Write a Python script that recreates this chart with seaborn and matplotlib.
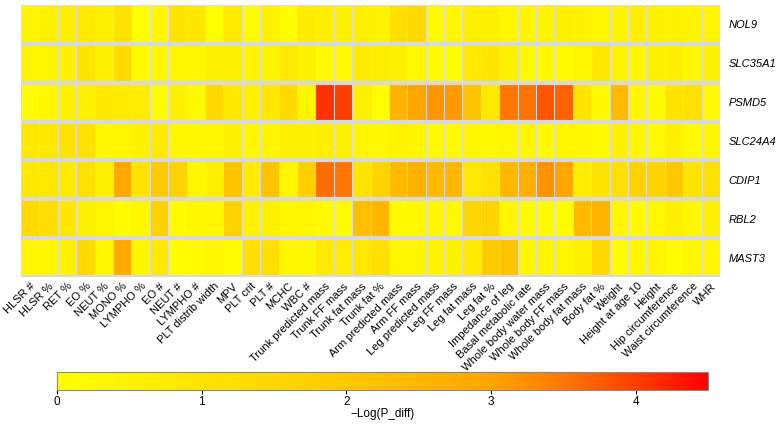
import numpy as np
import pandas as pd
import seaborn as sns
import matplotlib.pyplot as plt
from matplotlib.colors import LinearSegmentedColormap

plt.rcParams['font.family'] = ['Liberation Sans', 'DejaVu Sans']

traits = ["HLSR #", "HLSR %", "RET %", "EO %", "NEUT %", "MONO %", "LYMPHO %",
          "EO #", "NEUT #", "LYMPHO #", "PLT distrib width", "MPV", "PLT crit",
          "PLT #", "MCHC", "WBC #", "Trunk predicted mass", "Trunk FF mass",
          "Trunk fat mass", "Trunk fat %", "Arm predicted mass", "Arm FF mass",
          "Leg predicted mass", "Leg FF mass", "Leg fat mass", "Leg fat %",
          "Impedance of leg", "Basal metabolic rate", "Whole body water mass",
          "Whole body FF mass", "Whole body fat mass", "Body fat %", "Weight",
          "Height at age 10", "Height", "Hip circumference",
          "Waist circumference", "WHR"]

genes = ["NOL9", "SLC35A1", "PSMD5", "SLC24A4", "CDIP1", "RBL2", "MAST3"]

# -log(P_diff) per gene, one value per trait
nol9 = [0.4, 0.5, 0.6, 0.8, 0.6, 1.1, 0.05, 0.3, 1.0, 0.9, 0.05, 0.8, 0.15,
        0.5, 0.1, 0.75, 0.65, 0.5, 0.6, 0.45, 1.2, 1.4, 0.2, 0.35, 0.6, 0.55,
        0.3, 0.4, 0.4, 0.6, 0.5, 0.4, 0.4, 0.6, 0.5, 0.5, 0.4, 0.4]
slc35a1 = [0.4, 0.4, 0.5, 1.0, 0.6, 1.4, 0.2, 0.3, 0.3, 0.4, 0.6, 0.6, 0.4,
           0.4, 0.9, 0.5, 0.2, 0.2, 0.75, 0.7, 0.6, 0.3, 0.15, 0.1, 0.85, 0.95,
           0.6, 0.2, 0.2, 0.2, 0.4, 0.9, 0.4, 0.3, 0.5, 0.6, 0.3, 0.5]
psmd5 = [0.15, 0.3, 0.5, 0.6, 0.9, 0.8, 0.7, 0.15, 0.6, 0.2, 1.4, 0.9, 0.6,
         0.9, 1.4, 0.4, 4.1, 4.0, 0.6, 0.1, 2.6, 3.0, 3.15, 3.1, 2.1, 0.9,
         3.5, 3.55, 3.8, 3.7, 1.0, 0.25, 2.4, 0.35, 0.2, 1.0, 1.1, 0.25]
slc24a4 = [0.9, 0.9, 1.0, 1.1, 0.3, 0.4, 0.5, 0.8, 0.3, 0.3, 0.4, 0.5, 0.3,
           0.4, 0.6, 0.5, 0.65, 0.6, 0.35, 0.25, 0.45, 0.35, 0.2, 0.2, 0.3,
           0.25, 0.3, 0.3, 0.2, 0.4, 0.3, 0.2, 0.5, 0.3, 0.2, 0.6, 0.2, 0.3]
cdip1 = [0.85, 0.9, 0.8, 1.1, 0.6, 2.9, 1.0, 1.9, 1.6, 0.3, 0.6, 2.1, 0.7,
         2.1, 0.35, 1.75, 3.6, 3.5, 1.0, 1.6, 2.4, 2.65, 2.4, 2.45, 0.85, 1.15,
         2.45, 2.7, 3.2, 3.0, 0.7, 1.05, 1.15, 1.6, 1.6, 2.0, 1.0, 1.15]
rbl2 = [1.4, 1.2, 0.9, 0.6, 0.4, 0.15, 0.3, 1.7, 0.2, 0.3, 0.3, 1.7, 0.5,
        0.5, 0.35, 0.4, 0.2, 0.15, 2.3, 2.5, 0.2, 0.25, 0.3, 0.25, 1.55, 1.6,
        0.3, 0.2, 0.2, 0.15, 2.4, 2.55, 0.35, 0.2, 0.3, 0.6, 0.3, 0.6]
mast3 = [0.3, 0.35, 0.5, 1.4, 0.3, 2.9, 0.4, 0.9, 0.15, 0.2, 0.3, 0.15, 1.2,
         1.2, 0.3, 0.3, 0.8, 0.7, 0.9, 1.2, 0.35, 0.4, 0.45, 0.5, 0.8, 1.9,
         2.1, 0.35, 0.4, 0.4, 0.6, 1.4, 0.15, 0.3, 0.4, 0.15, 0.3, 0.4]

df = pd.DataFrame([nol9, slc35a1, psmd5, slc24a4, cdip1, rbl2, mast3],
                  index=genes, columns=traits)

# yellow -> orange -> red, slow at first then steep
cmap = LinearSegmentedColormap.from_list("heat", [
    (0.0, "#FFFF00"), (1 / 4.5, "#FFE400"), (2 / 4.5, "#FFC800"),
    (3 / 4.5, "#FFA500"), (3.5 / 4.5, "#FF7800"), (4 / 4.5, "#FF4000"),
    (1.0, "#FF0000")])

fig = plt.figure(figsize=(7.79, 4.24), dpi=100)
ax = fig.add_axes([21 / 779, 1 - 277 / 424, 699 / 779, 272 / 424])
cax = fig.add_axes([57 / 779, 1 - 390 / 424, 651 / 779, 18 / 424])

sns.heatmap(df, ax=ax, cmap=cmap, vmin=0, vmax=4.5, linewidths=0.6,
            linecolor="#dcdcdc", cbar_ax=cax,
            cbar_kws={"orientation": "horizontal", "ticks": [0, 1, 2, 3, 4]})

for y in range(1, len(genes) + 1):
    ax.axhline(y, color="#d9d9d9", lw=3)

ax.yaxis.tick_right()
ax.set_yticklabels(genes, rotation=0, style="italic", fontsize=8)
ax.set_xticklabels(traits, rotation=45, ha="right", rotation_mode="anchor",
                   fontsize=8)
ax.tick_params(axis="y", length=0, pad=6)
ax.tick_params(axis="x", length=0, pad=3)
ax.set_xlabel("")
ax.set_ylabel("")

cbar = ax.collections[0].colorbar
cbar.outline.set_edgecolor("#888888")
cbar.outline.set_linewidth(0.8)
cax.tick_params(length=3, labelsize=8.5, width=0.8, pad=1)
cbar.set_label("\u2212Log(P_diff)", fontsize=8.5, labelpad=0)

fig.savefig("out.png", dpi=100)
